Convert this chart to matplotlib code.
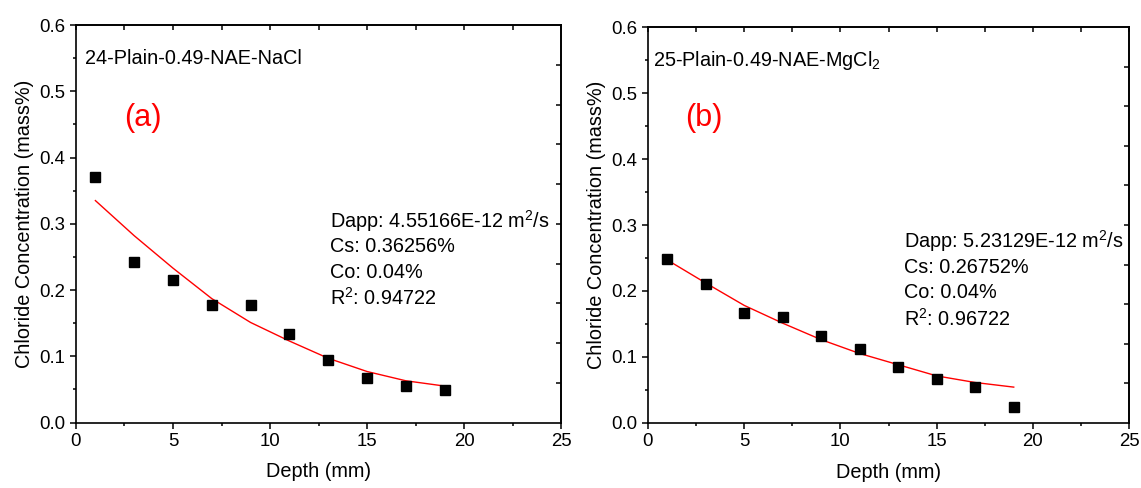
import numpy as np
import matplotlib
matplotlib.use('Agg')
from matplotlib import pyplot as plt
from matplotlib.ticker import MultipleLocator, NullFormatter

plt.rcParams['font.family'] = ['Liberation Sans', 'DejaVu Sans']
plt.rcParams['mathtext.fontset'] = 'custom'
plt.rcParams['mathtext.rm'] = 'Liberation Sans'
plt.rcParams['mathtext.it'] = 'Liberation Sans:italic'

# data
depth = [1, 3, 5, 7, 9, 11, 13, 15, 17, 19]

conc_a = [0.370, 0.242, 0.215, 0.178, 0.177, 0.134, 0.094, 0.067, 0.055, 0.049]
fit_a = [0.335, 0.282, 0.233, 0.187, 0.151, 0.123, 0.097, 0.077, 0.063, 0.055]

conc_b = [0.248, 0.210, 0.167, 0.160, 0.132, 0.112, 0.085, 0.067, 0.054, 0.024]
fit_b = [0.247, 0.212, 0.178, 0.151, 0.126, 0.105, 0.088, 0.071, 0.061, 0.054]

names = ['24-Plain-0.49-NAE-NaCl', r'25-Plain-0.49-NAE-MgCl$_2$']
tags = ['(a)', '(b)']
stats_a = [r'Dapp: 4.55166E-12 m$^2$/s', 'Cs: 0.36256%', 'Co: 0.04%', r'R$^2$: 0.94722']
stats_b = [r'Dapp: 5.23129E-12 m$^2$/s', 'Cs: 0.26752%', 'Co: 0.04%', r'R$^2$: 0.96722']

fig = plt.figure(figsize=(11.41, 4.88), dpi=100)
ax1 = fig.add_axes([0.0666, 0.1342, 0.4251, 0.8145])
ax2 = fig.add_axes([0.5679, 0.1338, 0.4218, 0.8102])


def style(ax):
    ax.set_xlim(0, 25)
    ax.set_ylim(0, 0.6)
    ax.xaxis.set_major_locator(MultipleLocator(5))
    ax.xaxis.set_minor_locator(MultipleLocator(2.5))
    ax.yaxis.set_major_locator(MultipleLocator(0.1))
    ax.yaxis.set_minor_locator(MultipleLocator(0.05))
    ax.yaxis.set_major_formatter(matplotlib.ticker.FormatStrFormatter('%.1f'))
    ax.tick_params(which='major', direction='out', length=4.5, width=1.1, labelsize=13.4, pad=3)
    ax.tick_params(which='minor', direction='out', length=2.5, width=1.1)
    for s in ax.spines.values():
        s.set_linewidth(1.2)
    ax.set_xlabel('Depth (mm)', fontsize=14.3, labelpad=9)
    ax.set_ylabel('Chloride Concentration (mass%)', fontsize=14.3, labelpad=4)
    top = ax.secondary_xaxis('top')
    top.set_xticks(np.arange(0, 25.1, 2.5))
    top.xaxis.set_major_formatter(NullFormatter())
    top.tick_params(direction='in', length=3.5, width=1.1)
    top.spines['top'].set_linewidth(1.2)
    right = ax.secondary_yaxis('right')
    right.set_yticks(np.arange(0.06, 0.55, 0.06))
    right.yaxis.set_major_formatter(NullFormatter())
    right.tick_params(direction='in', length=3.5, width=1.1)
    right.spines['right'].set_linewidth(1.2)


for ax, conc, fit, name, tag, stats, pos in [
        (ax1, conc_a, fit_a, names[0], tags[0], stats_a, (0.47, 0.550, 3.47, 0.46, 13.1, 0.3045)),
        (ax2, conc_b, fit_b, names[1], tags[1], stats_b, (0.26, 0.550, 2.91, 0.462, 13.3, 0.275))]:
    style(ax)
    ax.plot(depth, fit, color='red', lw=1.0, zorder=2)
    ax.plot(depth, conc, 's', color='black', ms=7, zorder=3)
    ax.text(pos[0], pos[1], name, fontsize=14.3, va='center', ha='left')
    ax.text(pos[2], pos[3], tag, fontsize=22, color='red', va='center', ha='center')
    for i, line in enumerate(stats):
        ax.text(pos[4], pos[5] - i * 0.039, line, fontsize=14.3, va='center', ha='left')

fig.savefig('out.png', dpi=100)
